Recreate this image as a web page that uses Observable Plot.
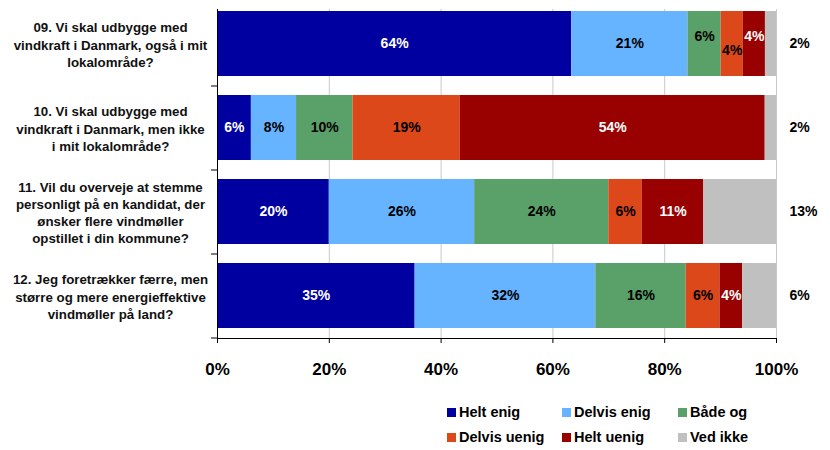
<!DOCTYPE html>
<html>
<head>
<meta charset="utf-8">
<script src="https://cdn.jsdelivr.net/npm/d3@7"></script>
<script src="https://cdn.jsdelivr.net/npm/@observablehq/plot@0.6"></script>
<style>
  body { margin: 0; background: #fff; font-family: "Liberation Sans", Arial, sans-serif; }
  #chart { width: 830px; height: 390px; }
  #legend { position: relative; width: 830px; height: 60px; font-weight: bold; font-size: 14.5px; color: #000; }
  .item { position: absolute; display: flex; align-items: center; white-space: nowrap; height: 20px; }
  .sw { width: 9px; height: 9px; margin-right: 3px; }
</style>
</head>
<body>
<div id="chart"></div>
<div id="legend"></div>
<script>
// ---- data ----
const questions = [
  "09. Vi skal udbygge med\nvindkraft i Danmark, også i mit\nlokalområde?",
  "10. Vi skal udbygge med\nvindkraft i Danmark, men ikke\ni mit lokalområde?",
  "11. Vil du overveje at stemme\npersonligt på en kandidat, der\nønsker flere vindmøller\nopstillet i din kommune?",
  "12. Jeg foretrækker færre, men\nstørre og mere energieffektive\nvindmøller på land?"
];
const categories = ["Helt enig", "Delvis enig", "Både og", "Delvis uenig", "Helt uenig", "Ved ikke"];
const heltEnig    = [64, 6, 20, 35];
const delvisEnig  = [21, 8, 26, 32];
const baadeOg     = [6, 10, 24, 16];
const delvisUenig = [4, 19, 6, 6];
const heltUenig   = [4, 54, 11, 4];
const vedIkke     = [2, 2, 13, 6];
const colors = ["#0000A0", "#66B3FF", "#5AA169", "#DC4819", "#990000", "#C0C0C0"];
const xTicks = [0, 0.2, 0.4, 0.6, 0.8, 1];

// ---- table ----
const series = [heltEnig, delvisEnig, baadeOg, delvisUenig, heltUenig, vedIkke];
const rows = categories.flatMap((c, i) => questions.map((q, j) => ({question: q, qi: j, category: c, value: series[i][j]})));

const whiteCats = new Set(["Helt enig", "Helt uenig"]);
const staggerUp = d => d.qi === 0 && (d.category === "Både og" || d.category === "Helt uenig");
const staggerDown = d => d.qi === 0 && d.category === "Delvis uenig";

function labels(test, fill, dy) {
  return Plot.text(rows, Plot.filter(test, Plot.stackX({
    offset: "normalize", x: "value", y: "question", z: "category",
    text: d => d.value + "%", fill, dy,
    fontSize: 14, fontWeight: "bold"
  })));
}
const inside = d => d.category !== "Ved ikke";

const chart = Plot.plot({
  width: 830,
  height: 390,
  marginLeft: 217,
  marginRight: 54,
  marginTop: 9,
  marginBottom: 52,
  style: {fontFamily: "'Liberation Sans', Arial, sans-serif", color: "#000", background: "#fff"},
  x: {domain: [0, 1], label: null},
  y: {domain: questions, paddingInner: 0.229, paddingOuter: 0.065, align: 0.18, label: null},
  color: {domain: categories, range: colors},
  marks: [
    Plot.gridX(xTicks.slice(1), {stroke: "#c8c8c8", strokeOpacity: 1}),
    Plot.barX(rows, Plot.stackX({offset: "normalize", x: "value", y: "question", fill: "category"})),
    labels(d => inside(d) && !staggerUp(d) && !staggerDown(d) && whiteCats.has(d.category), "white", 0),
    labels(d => inside(d) && !staggerUp(d) && !staggerDown(d) && !whiteCats.has(d.category), "black", 0),
    labels(d => staggerUp(d) && whiteCats.has(d.category), "white", -7),
    labels(d => staggerUp(d) && !whiteCats.has(d.category), "black", -7),
    labels(d => staggerDown(d), "black", 7),
    Plot.text(rows.filter(d => d.category === "Ved ikke"), {
      y: "question", frameAnchor: "right", textAnchor: "start", dx: 13,
      text: d => d.value + "%", fontSize: 14, fontWeight: "bold", fill: "black"
    }),
    Plot.ruleX([0], {stroke: "black"}),
    Plot.frame({anchor: "bottom", stroke: "black"}),
    Plot.axisX(xTicks, {label: null, tickSize: 5, tickPadding: 19, tickFormat: d => Math.round(d * 100) + "%",
      fontSize: 17, fontWeight: "bold", letterSpacing: 0.5, stroke: "black"}),
    Plot.axisY({label: null, tickSize: 0, tickPadding: 107, textAnchor: "middle", lineHeight: 1.3,
      fontSize: 13.3, fontWeight: "bold", fill: "#111"}),
    Plot.axisY(questions.slice(1), {label: null, tickSize: 6, tickFormat: () => "", dy: -42, stroke: "black"}),
    Plot.axisY(questions.slice(3), {label: null, tickSize: 6, tickFormat: () => "", dy: 42, stroke: "black"})
  ]
});
document.getElementById("chart").appendChild(chart);

// ---- legend ----
const legend = document.getElementById("legend");
const colX = [447, 562, 678];
const rowY = [22, 47];
categories.forEach((c, i) => {
  const el = document.createElement("div");
  el.className = "item";
  el.style.left = colX[i % 3] + "px";
  el.style.top = (rowY[Math.floor(i / 3)] - 10) + "px";
  el.innerHTML = `<span class="sw" style="background:${colors[i]}"></span><span>${c}</span>`;
  legend.appendChild(el);
});
</script>
</body>
</html>
